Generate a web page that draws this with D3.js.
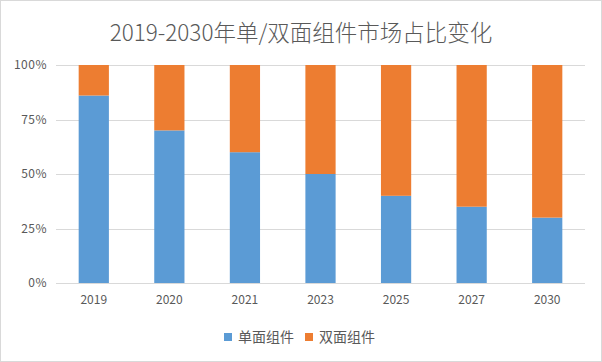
<!DOCTYPE html>
<html><head><meta charset="utf-8">
<script src="https://cdn.jsdelivr.net/npm/d3@7"></script>
<style>body{margin:0;background:#fff;}svg{display:block;}</style>
</head><body>
<svg id="c" width="602" height="362"></svg>
<script>
const categories = ["2019","2020","2021","2023","2025","2027","2030"];
const singleSided = [86,70,60,50,40,35,30];
const doubleSided = [14,30,40,50,60,65,70];
const seriesNames = ["单面组件","双面组件"];
const colors = ["#5B9BD5","#ED7D31"];
const yTicks = [0,25,50,75,100];

const svg = d3.select("#c");
const W=602,H=362;
svg.append("rect").attr("x",0.5).attr("y",0.5).attr("width",W-1).attr("height",H-1)
  .attr("fill","#fff").attr("stroke","#D9D9D9");

const font = "'Microsoft YaHei','Noto Sans CJK SC','DejaVu Sans',sans-serif";
svg.append("text").attr("x",301).attr("y",41).attr("text-anchor","middle")
  .attr("font-family",font).attr("font-size",22.5).attr("font-weight",300).attr("fill","#595959")
  .text("2019-2030年单/双面组件市场占比变化");

const m={l:56,r:17,t:65,b:79};
const x=d3.scaleBand().domain(categories).range([m.l,W-m.r]).paddingInner(0.6).paddingOuter(0.3);
const y=d3.scaleLinear().domain([0,100]).range([H-m.b,m.t]);

const g=svg.append("g");
g.selectAll("line.grid").data(yTicks).enter().append("line")
  .attr("x1",m.l).attr("x2",W-m.r)
  .attr("y1",d=>Math.round(y(d))+0.5).attr("y2",d=>Math.round(y(d))+0.5)
  .attr("stroke","#D9D9D9").attr("stroke-width",1);

g.selectAll("text.yl").data(yTicks).enter().append("text")
  .attr("x",47).attr("y",d=>y(d)+4).attr("text-anchor","end")
  .attr("font-family",font).attr("font-size",12).attr("fill","#595959")
  .attr("letter-spacing",0.5)
  .text(d=>d+"%");

const data=categories.map((c,i)=>({cat:c,s:singleSided[i],d:doubleSided[i]}));
const stack=d3.stack().keys(["s","d"])(data);
stack.forEach((layer,li)=>{
  g.selectAll("rect.l"+li).data(layer).enter().append("rect")
    .attr("x",d=>x(d.data.cat)).attr("width",x.bandwidth())
    .attr("y",d=>y(d[1])).attr("height",d=>y(d[0])-y(d[1]))
    .attr("fill",colors[li]);
});

g.selectAll("text.xl").data(categories).enter().append("text")
  .attr("x",d=>x(d)+x.bandwidth()/2).attr("y",304).attr("text-anchor","middle")
  .attr("font-family",font).attr("font-size",12).attr("fill","#595959")
  .text(d=>d);

// legend
const lg=svg.append("g");
const items=[{x:224},{x:305}];
seriesNames.forEach((n,i)=>{
  lg.append("rect").attr("x",items[i].x).attr("y",333).attr("width",8).attr("height",8).attr("fill",colors[i]);
  lg.append("text").attr("x",items[i].x+14).attr("y",342)
    .attr("font-family",font).attr("font-size",14).attr("fill","#595959").text(n);
});
</script>
</body></html>
